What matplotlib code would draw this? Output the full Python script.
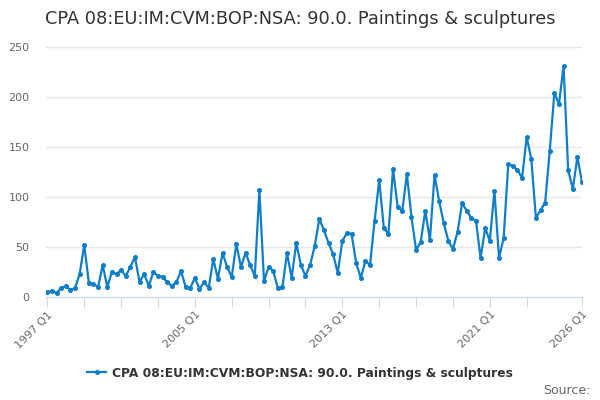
import matplotlib
matplotlib.use('Agg')
import matplotlib.pyplot as plt

# quarterly values, 1997 Q1 .. 2026 Q1
values = [
    5, 6, 4, 9, 11, 7, 9, 23, 52, 14, 13, 10, 32, 10, 25, 23, 27, 21, 30, 40,
    15, 23, 11, 25, 21, 20, 15, 11, 15, 26, 10, 9, 19, 8, 15, 9, 38, 18, 44, 30,
    20, 53, 30, 44, 32, 21, 107, 16, 30, 26, 9, 10, 44, 19, 54, 32, 21, 32, 51, 78,
    67, 54, 43, 24, 56, 64, 63, 34, 19, 36, 32, 76, 117, 69, 63, 128, 90, 86, 123, 80,
    47, 55, 86, 57, 122, 96, 74, 56, 48, 65, 94, 86, 79, 76, 39, 69, 56, 106, 39, 59,
    133, 131, 127, 119, 160, 138, 79, 87, 94, 146, 204, 193, 231, 127, 108, 140, 115,
]
start_year = 1997
labels = [f"{start_year + i // 4} Q{i % 4 + 1}" for i in range(len(values))]
x = list(range(len(values)))

# tick every 2 years up to 2023, plus the last quarter
tick_pos = [i for i in x if i % 8 == 0 and i <= 104] + [len(values) - 1]
shown = {0, 32, 64, 96, len(values) - 1}
tick_lab = [labels[i] if i in shown else '' for i in tick_pos]

blue = '#0f7ec6'
grey = '#666666'
series_name = 'CPA 08:EU:IM:CVM:BOP:NSA: 90.0. Paintings & sculptures'

fig = plt.figure(figsize=(6, 4), dpi=100)
ax = fig.add_axes([46 / 600, 103 / 400, 536 / 600, 250 / 400])

ax.plot(x, values, color=blue, lw=1.6, marker='o', ms=2.6, label=series_name)

ax.set_xlim(-0.3, len(values) - 1)
ax.set_ylim(0, 250)
ax.set_yticks([0, 50, 100, 150, 200, 250])
ax.grid(axis='y', color='#e6e6e6', lw=1)
ax.set_axisbelow(True)
for s in ['top', 'right', 'left']:
    ax.spines[s].set_visible(False)
ax.spines['bottom'].set_color('#ccd6eb')
ax.tick_params(axis='y', length=0, pad=12, labelsize=8, labelcolor=grey)
ax.set_xticks(tick_pos)
ax.set_xticklabels(tick_lab, rotation=45, ha='right', rotation_mode='anchor',
                   fontsize=8, color=grey)
ax.tick_params(axis='x', length=7, color='#ccd6eb', pad=2)

fig.text(45 / 600, 1 - 24 / 400, series_name, fontsize=12.8, color='#333333',
         ha='left', va='baseline')

leg = fig.legend(loc='center', bbox_to_anchor=(0.5, 1 - 373 / 400), frameon=False,
                 prop={'weight': 'bold', 'size': 8.8}, handlelength=1.6,
                 handletextpad=0.5)
for t in leg.get_texts():
    t.set_color('#333333')

fig.text(590 / 600, 1 - 390 / 400, 'Source:', fontsize=9, color=grey,
         ha='right', va='center')

fig.savefig('out.png', dpi=100)
